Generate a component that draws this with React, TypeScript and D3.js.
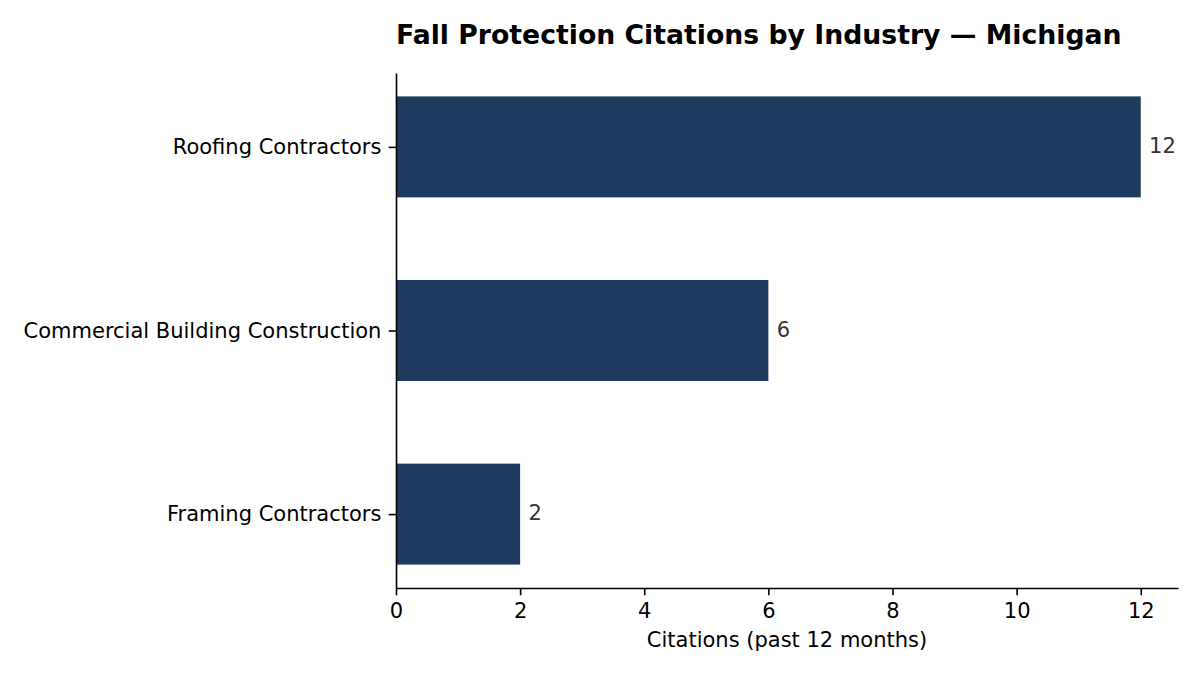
import React, { useEffect, useRef } from 'react';
import * as d3 from 'd3';

const industries = ['Roofing Contractors', 'Commercial Building Construction', 'Framing Contractors'];
const citations = [12, 6, 2];
const xTicks = [0, 2, 4, 6, 8, 10, 12];

const W = 1200;
const H = 675;
const margin = { top: 73, right: 22, bottom: 87, left: 396 };
const FONT = '"DejaVu Sans", sans-serif';
const LABEL_SIZE = 21;
const TICK_LEN = 7.3;

const App = () => {
  const ref = useRef<SVGSVGElement>(null);

  useEffect(() => {
    const svg = d3.select(ref.current);
    svg.selectAll('*').remove();

    const innerW = W - margin.left - margin.right;
    const innerH = H - margin.top - margin.bottom;

    // bars are 0.55 wide in category units, with 5% padding on each side of the y range
    const half = 0.275;
    const span = (industries.length - 1) + 2 * half;
    const yPad = span * 0.05;
    const y = d3.scaleLinear()
      .domain([-half - yPad, industries.length - 1 + half + yPad])
      .range([0, innerH]);

    const x = d3.scaleLinear()
      .domain([0, d3.max(citations)! * 1.05])
      .range([0, innerW]);

    const g = svg.append('g').attr('transform', `translate(${margin.left},${margin.top})`);

    // Bars
    g.selectAll('rect')
      .data(citations)
      .enter()
      .append('rect')
      .attr('x', x(0))
      .attr('y', (d, i) => y(i - half))
      .attr('width', d => x(d) - x(0))
      .attr('height', y(half) - y(-half))
      .attr('fill', '#1f3a5f');

    // Value labels
    g.selectAll('text.value')
      .data(citations)
      .enter()
      .append('text')
      .attr('class', 'value')
      .attr('x', d => x(d) + 8.3)
      .attr('y', (d, i) => y(i) - 1)
      .attr('dy', '0.35em')
      .attr('font-family', FONT)
      .attr('font-size', LABEL_SIZE)
      .attr('fill', '#333333')
      .text(d => d);

    // x axis
    const xAxis = g.append('g')
      .attr('transform', `translate(0,${innerH})`)
      .call(d3.axisBottom(x).tickValues(xTicks).tickSize(TICK_LEN).tickPadding(TICK_LEN).tickSizeOuter(0));
    xAxis.selectAll('text').attr('font-family', FONT).attr('font-size', LABEL_SIZE).attr('fill', '#000');
    xAxis.selectAll('line').attr('stroke', '#000').attr('stroke-width', 1.6);
    xAxis.select('.domain').attr('stroke', '#000').attr('stroke-width', 1.6);

    // y axis
    const yAxis = g.append('g')
      .call(d3.axisLeft(y).tickValues(industries.map((_, i) => i))
        .tickFormat(i => industries[i as number]).tickSize(TICK_LEN).tickPadding(TICK_LEN).tickSizeOuter(0));
    yAxis.selectAll('text').attr('font-family', FONT).attr('font-size', LABEL_SIZE).attr('fill', '#000');
    yAxis.selectAll('line').attr('stroke', '#000').attr('stroke-width', 1.6);
    yAxis.select('.domain').attr('stroke', '#000').attr('stroke-width', 1.6);

    // Axis label
    g.append('text')
      .attr('x', innerW / 2)
      .attr('y', innerH + 59)
      .attr('text-anchor', 'middle')
      .attr('font-family', FONT)
      .attr('font-size', LABEL_SIZE)
      .text('Citations (past 12 months)');

    // Title
    svg.append('text')
      .attr('x', margin.left)
      .attr('y', 44)
      .attr('font-family', FONT)
      .attr('font-size', 26.7)
      .attr('font-weight', 'bold')
      .text('Fall Protection Citations by Industry — Michigan');
  }, []);

  return <svg ref={ref} width={W} height={H} style={{ position: 'absolute', left: 0, top: 0 }}></svg>;
};

export default App;
